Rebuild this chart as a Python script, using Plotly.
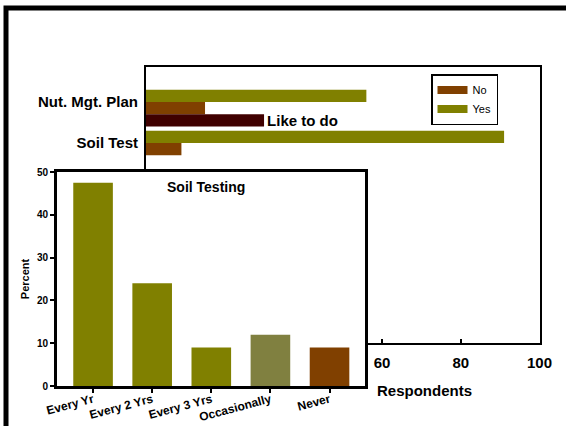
import plotly.graph_objects as go

# ---- data: main chart (Respondents) ----
practices = ["Nut. Mgt. Plan", "Soil Test"]
yes_vals = [56, 91]
no_vals = [15, 9]
like_vals = [30, None]
like_text = ["Like to do", ""]

# ---- data: inset (Soil Testing, percent) ----
freq_cats = ["Every Yr", "Every 2 Yrs", "Every 3 Yrs", "Occasionally", "Never"]
freq_pct = [47.5, 24, 9, 12, 9]

# ---- colours ----
C_YES = "#808000"
C_NO = "#804000"
C_LIKE = "#400000"
C_OCC = "#808040"
freq_colors = [C_YES, C_YES, C_YES, C_OCC, C_NO]

FONT = "Liberation Sans, Arial, sans-serif"
W, H = 566, 426


def px_x(p):
    return p / W


def px_y(p):
    return 1 - p / H


fig = go.Figure()

# main chart bars (Yes on top, then No); "Like to do" sits just below them
fig.add_trace(go.Bar(y=practices, x=yes_vals, orientation="h", name="Yes",
                     marker=dict(color=C_YES, line=dict(width=0)),
                     showlegend=False, xaxis="x", yaxis="y"))
fig.add_trace(go.Bar(y=practices, x=no_vals, orientation="h", name="No",
                     marker=dict(color=C_NO, line=dict(width=0)),
                     showlegend=False, xaxis="x", yaxis="y"))
fig.add_trace(go.Bar(y=practices, x=like_vals, orientation="h", name="Like to do",
                     offset=0.3, width=0.3,
                     marker=dict(color=C_LIKE, line=dict(width=0)),
                     text=like_text, textposition="outside", constraintext="none",
                     cliponaxis=False,
                     textfont=dict(family=FONT, size=15, color="black", weight="bold"),
                     showlegend=False, xaxis="x", yaxis="y"))

# legend entries (wide swatches)
fig.add_trace(go.Scatter(x=[None], y=[None], mode="lines", name="No",
                         line=dict(color=C_NO, width=8), legendrank=1,
                         xaxis="x", yaxis="y"))
fig.add_trace(go.Scatter(x=[None], y=[None], mode="lines", name="Yes",
                         line=dict(color=C_YES, width=8), legendrank=2,
                         xaxis="x", yaxis="y"))

# inset bar chart
fig.add_trace(go.Bar(x=freq_cats, y=freq_pct, width=0.67,
                     marker=dict(color=freq_colors, line=dict(width=0)),
                     showlegend=False, xaxis="x3", yaxis="y3"))

fig.update_layout(
    width=W, height=H,
    margin=dict(l=0, r=0, t=0, b=0, pad=0, autoexpand=False),
    paper_bgcolor="white", plot_bgcolor="white",
    barmode="group", bargap=0.4, bargroupgap=0,
    font=dict(family=FONT, color="black"),
    showlegend=True,
    legend=dict(x=px_x(431), y=px_y(74), xanchor="left", yanchor="top",
                bordercolor="black", borderwidth=1.5, bgcolor="white",
                font=dict(family=FONT, size=11, color="black"),
                itemwidth=30, tracegroupgap=0),
    # main chart axes
    xaxis=dict(domain=[px_x(146), px_x(539.5)], range=[0, 100], dtick=20,
               showline=True, linecolor="black", linewidth=2, mirror=True,
               ticks="inside", ticklen=4, tickwidth=1.5, tickcolor="black",
               ticklabelstandoff=5,
               tickfont=dict(family=FONT, size=15, color="black", weight="bold"),
               showgrid=False, zeroline=False, anchor="y", automargin=False),
    yaxis=dict(domain=[px_y(343), px_y(67)], type="category",
               range=[5.88, -0.854],
               showline=True, linecolor="black", linewidth=2, mirror=True,
               ticks="", ticklabelstandoff=3,
               tickfont=dict(family=FONT, size=15, color="black", weight="bold"),
               showgrid=False, zeroline=False, anchor="x", automargin=False),
    # white cover panel behind the inset
    xaxis2=dict(domain=[px_x(9), px_x(373)], visible=False, anchor="y2"),
    yaxis2=dict(domain=[0, px_y(154)], visible=False, anchor="x2"),
    # inset axes
    xaxis3=dict(domain=[px_x(57), px_x(365)], range=[-0.61, 4.60], type="category",
                showline=True, linecolor="black", linewidth=3, mirror=True,
                ticks="outside", ticklen=4, tickwidth=2, tickcolor="black",
                tickangle=-15, ticklabelstandoff=-5,
                tickfont=dict(family=FONT, size=12, color="black", weight="bold"),
                showgrid=False, zeroline=False, anchor="y3", automargin=False),
    yaxis3=dict(domain=[px_y(386), px_y(172)], range=[0, 50], dtick=10,
                showline=True, linecolor="black", linewidth=3, mirror=True,
                ticks="outside", ticklen=4, tickwidth=2, tickcolor="black",
                ticklabelstandoff=0,
                tickfont=dict(family=FONT, size=10, color="black", weight="bold"),
                title=dict(text="Percent", standoff=6,
                           font=dict(family=FONT, size=11, color="black", weight="bold")),
                showgrid=False, zeroline=False, anchor="x3", automargin=False),
)

fig.add_annotation(text="Respondents", xref="paper", yref="paper",
                   x=px_x(375), y=px_y(390), xanchor="left", yanchor="middle",
                   showarrow=False,
                   font=dict(family=FONT, size=15, color="black", weight="bold"))
fig.add_annotation(text="Soil Testing", xref="paper", yref="paper",
                   x=px_x(206), y=px_y(187), xanchor="center", yanchor="middle",
                   showarrow=False,
                   font=dict(family=FONT, size=14, color="black", weight="bold"))

# outer frame
fig.add_shape(type="rect", xref="paper", yref="paper",
              x0=px_x(6), y0=px_y(8), x1=1.05, y1=-0.05,
              line=dict(color="black", width=5), fillcolor="rgba(0,0,0,0)",
              layer="above")

fig.write_html(
    "out.html",
    config={"displayModeBar": False},
    post_script="document.body.style.margin='0';document.body.style.padding='0';"
                "document.documentElement.style.overflow='hidden';",
)
